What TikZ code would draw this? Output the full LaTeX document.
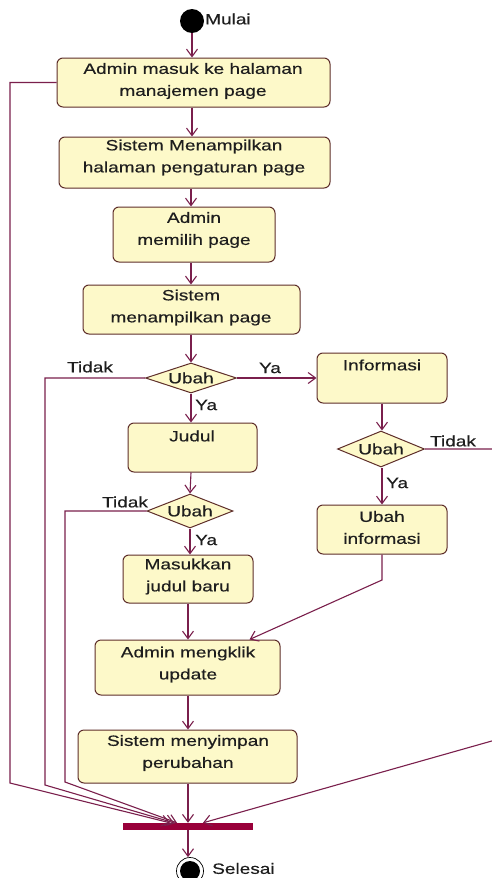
\documentclass[tikz,border=0pt]{standalone}
\usepackage{fontspec}
\setmainfont{Liberation Sans}[FakeStretch=1.27,FakeBold=0.4]
\usetikzlibrary{arrows.meta,shapes.geometric}

\definecolor{flowcol}{HTML}{7A1F4C}
\definecolor{edgecol}{HTML}{5E2E2A}
\definecolor{fillcol}{HTML}{FDF9C9}
\definecolor{barcol}{HTML}{99003A}
\definecolor{inkcol}{HTML}{1E1E1E}

\tikzset{
  actbox/.style={draw=edgecol, fill=fillcol, rounded corners=6pt, line width=1pt, inner sep=0pt},
  decbox/.style={diamond, draw=edgecol, fill=fillcol, line width=1pt, inner sep=0pt},
  txt/.style={text=inkcol, font=\fontsize{15}{22}\selectfont, align=center, inner sep=0pt},
  flow/.style={draw=flowcol, line width=1.1pt, -{Straight Barb[length=7.5pt,width=11pt]}},
}

\begin{document}
\begin{tikzpicture}[x=1pt,y=-1pt]
\clip (0,0) rectangle (492,878);
\fill[white] (0,0) rectangle (492,878);

% main column
\coordinate (col) at (191,0);

% start
\node[circle, fill=black, minimum size=24pt, inner sep=0pt] (st) at (192,21) {};
\node[txt, anchor=west] (mulai) at (205,19) {Mulai};

% activities
\node[actbox, minimum width=273pt, minimum height=49pt] (b1) at (193.5,82.5) {};
\node[txt] (b1t) at (193,81) {Admin masuk ke halaman\\manajemen page};

\node[actbox, minimum width=271pt, minimum height=51pt] (b2) at (194.5,162.5) {};
\node[txt] (b2t) at (194,157.5) {Sistem Menampilkan\\halaman pengaturan page};

\node[actbox, minimum width=162pt, minimum height=55pt] (b3) at (194,234.5) {};
\node[txt] (b3t) at (194,230) {Admin\\memilih page};

\node[actbox, minimum width=217pt, minimum height=49pt] (b4) at (191.5,309.5) {};
\node[txt] (b4t) at (191,307.5) {Sistem\\menampilkan page};

\node[decbox, minimum width=91pt, minimum height=30pt] (d1) at (191,378) {};
\node[txt] (d1t) at (191,378) {Ubah};

\node[actbox, minimum width=130pt, minimum height=50pt] (info) at (382,378) {};
\node[txt] (infot) at (382,365) {Informasi};

\node[actbox, minimum width=129pt, minimum height=49pt] (judul) at (192.5,447.5) {};
\node[txt] (judult) at (192,436) {Judul};

\node[decbox, minimum width=87pt, minimum height=36pt] (d2) at (381,449) {};
\node[txt] (d2t) at (381,449) {Ubah};

\node[actbox, minimum width=130pt, minimum height=49pt] (ubinfo) at (382,529.5) {};
\node[txt] (ubinfot) at (382,527.5) {Ubah\\informasi};

\node[decbox, minimum width=86pt, minimum height=34pt] (d3) at (190,511) {};
\node[txt] (d3t) at (190,511) {Ubah};

\node[actbox, minimum width=130pt, minimum height=48pt] (masuk) at (188,579) {};
\node[txt] (masukt) at (188,576.5) {Masukkan\\judul baru};

\node[actbox, minimum width=185pt, minimum height=55pt] (admin) at (187.5,667.5) {};
\node[txt] (admint) at (188,664.5) {Admin mengklik\\update};

\node[actbox, minimum width=219pt, minimum height=53pt] (simpan) at (187.5,756.5) {};
\node[txt] (simpant) at (188,753) {Sistem menyimpan\\perubahan};

% join bar and end
\node[fill=barcol, minimum width=130pt, minimum height=7pt, inner sep=0pt] (bar) at (188,826.5) {};
\node[circle, draw=black, fill=white, line width=0.7pt, minimum size=27pt, inner sep=0pt] (en) at (190,871) {};
\node[circle, fill=black, minimum size=20pt, inner sep=0pt] (enin) at (190,871) {};
\node[txt, anchor=west] (selesai) at (212,868.5) {Selesai};

% main flow
\draw[flow] (st) -- (b1.north -| st);
\draw[flow] (b1.south -| st) -- (b2.north -| st);
\draw[flow] (b2.south -| col) -- (b3.north -| col);
\draw[flow] (b3.south -| col) -- (b4.north -| col);
\draw[flow] (b4.south -| col) -- (d1.north);
\draw[flow] (d1.south) -- (judul.north -| d1);
\draw[flow] (judul.south -| d1) -- (d3.north);
\draw[flow] (d3.south) -- (masuk.north -| d3);
\draw[flow] (masuk.south -| masuk) -- (admin.north -| masuk);
\draw[flow] (admin.south -| masuk) -- (simpan.north -| masuk);
\draw[flow] (simpan.south -| masuk) -- (bar.north -| masuk);
\draw[flow] (bar.south -| masuk) -- (en.north -| masuk);

% right branch
\draw[flow] (d1.east) -- (info.west |- d1);
\draw[flow] (info.south) -- (d2.north -| info);
\draw[flow] (d2.south -| info) -- (ubinfo.north);
\coordinate (bend) at (382,580);
\draw[flow] (ubinfo.south) -- (bend) -- ([xshift=62pt]admin.north);

% side connectors into the join bar
\draw[flow] (b1.west) -- (10,82.5) -- (10,783) -- ([xshift=-18pt]bar.north);
\draw[flow] (d1.west) -- (45,378) -- (45,785) -- ([xshift=-14pt]bar.north);
\draw[flow] (d3.west) -- (65,511) -- (65,782) -- ([xshift=-11pt]bar.north);
\draw[flow] (d2.east) -- (520,449) -- (520,733) -- ([xshift=15pt]bar.north);

% guard labels
\node[txt] (g1) at (90,367) {Tidak};
\node[txt] (g2) at (270,368) {Ya};
\node[txt, anchor=west] (g3) at (195,405) {Ya};
\node[txt] (g4) at (453,441) {Tidak};
\node[txt, anchor=west] (g5) at (386,483) {Ya};
\node[txt] (g6) at (125,502) {Tidak};
\node[txt, anchor=west] (g7) at (195,540) {Ya};
\end{tikzpicture}
\end{document}
